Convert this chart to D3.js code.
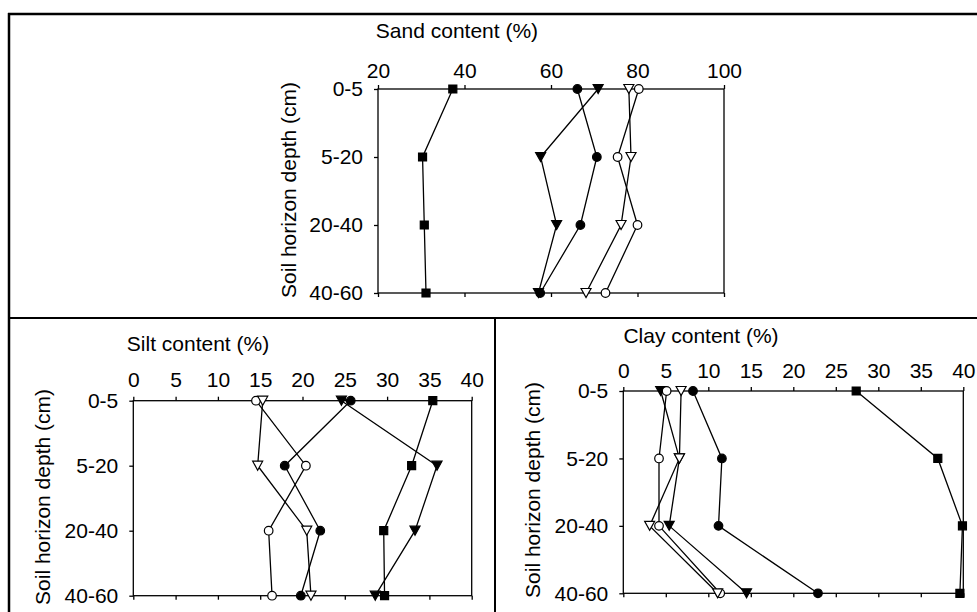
<!DOCTYPE html>
<html>
<head>
<meta charset="utf-8">
<script src="https://cdn.jsdelivr.net/npm/d3@7"></script>
<style>
    body { margin: 0; background: #fff; }
    svg { display: block; font-family: "Liberation Sans", Arial, sans-serif; }
</style>
</head>
<body>
<svg id="chart" width="977" height="612"></svg>
<script>
// depth classes (categories on the y axis)
var depths = ["0-5", "5-20", "20-40", "40-60"];

// sand content (%) per series
var sandSquare = [37.3, 30.3, 30.7, 31.1];
var sandFilledTri = [70.9, 57.6, 61.3, 57.1];
var sandFilledCircle = [66.1, 70.6, 66.8, 57.5];
var sandOpenCircle = [80.3, 75.4, 80.0, 72.6];
var sandOpenTri = [78.0, 78.5, 76.2, 68.1];

// silt content (%)
var siltSquare = [35.4, 32.9, 29.6, 29.7];
var siltFilledTri = [24.6, 35.9, 33.3, 28.6];
var siltFilledCircle = [25.7, 17.9, 22.1, 19.8];
var siltOpenCircle = [14.5, 20.4, 16.0, 16.4];
var siltOpenTri = [15.3, 14.7, 20.5, 21.0];

// clay content (%)
var claySquare = [27.4, 37.0, 39.9, 39.6];
var clayFilledTri = [4.4, 6.6, 5.4, 14.5];
var clayFilledCircle = [8.2, 11.6, 11.2, 22.9];
var clayOpenCircle = [5.1, 4.2, 4.2, 11.4];
var clayOpenTri = [6.8, 6.6, 3.1, 11.1];

var sandTicks = [20, 40, 60, 80, 100];
var siltTicks = [0, 5, 10, 15, 20, 25, 30, 35, 40];
var clayTicks = [0, 5, 10, 15, 20, 25, 30, 35, 40];

var fontSize = "21px";
var svg = d3.select("#chart");

// frame around the figure
var frame = svg.append("g").attr("stroke", "#000").attr("fill", "none");
frame.append("line").attr("x1", 8).attr("x2", 977).attr("y1", 14).attr("y2", 14).attr("stroke-width", 2.5);
frame.append("line").attr("x1", 9).attr("x2", 9).attr("y1", 13).attr("y2", 612).attr("stroke-width", 2.5);
frame.append("line").attr("x1", 8).attr("x2", 977).attr("y1", 318).attr("y2", 318).attr("stroke-width", 2);
frame.append("line").attr("x1", 495).attr("x2", 495).attr("y1", 318).attr("y2", 612).attr("stroke-width", 2);

function drawPanel(p) {
    var x = d3.scaleLinear().domain(p.domain).range([p.left, p.right]);
    var y = d3.scalePoint().domain(depths).range([p.top, p.bottom]).padding(0);
    var g = svg.append("g");

    // top axis with labels
    var top = g.append("g")
        .attr("transform", "translate(0," + p.top + ")")
        .call(d3.axisTop(x).tickValues(p.ticks).tickSize(4).tickSizeOuter(0).tickPadding(p.tickPad));
    top.select(".domain").remove();
    top.selectAll("text").style("font-size", fontSize).attr("fill", "#000").attr("font-family", null);
    top.selectAll("line").attr("stroke-width", 1.3);

    // bottom line, ticks only
    var bot = g.append("g")
        .attr("transform", "translate(0," + p.bottom + ")")
        .call(d3.axisBottom(x).tickValues(p.ticks).tickSize(4).tickSizeOuter(0).tickFormat(""));
    bot.select(".domain").remove();
    bot.selectAll("line").attr("stroke-width", 1.3);

    // left axis with depth labels
    var left = g.append("g")
        .attr("transform", "translate(" + p.left + ",0)")
        .call(d3.axisLeft(y).tickSize(4).tickSizeOuter(0).tickPadding(11));
    left.select(".domain").remove();
    left.selectAll("text").style("font-size", fontSize).attr("fill", "#000").attr("font-family", null);
    left.selectAll("line").attr("stroke-width", 1.3);

    // plot box
    g.append("rect")
        .attr("x", p.left).attr("y", p.top)
        .attr("width", p.right - p.left).attr("height", p.bottom - p.top)
        .attr("fill", "none").attr("stroke", "#000").attr("stroke-width", 1.3);

    // titles
    g.append("text")
        .attr("x", p.titleX).attr("y", p.titleY)
        .attr("text-anchor", "middle").style("font-size", fontSize)
        .text(p.title);
    g.append("text")
        .attr("transform", "translate(" + p.yTitleX + "," + p.yTitleY + ") rotate(-90)")
        .attr("text-anchor", "middle").attr("dy", "0.35em").style("font-size", fontSize)
        .text("Soil horizon depth (cm)");

    var line = d3.line()
        .x(function (d) { return x(d.v); })
        .y(function (d) { return y(d.depth); });

    p.series.forEach(function (s) {
        var pts = s.values.map(function (v, i) { return { v: v, depth: depths[i] }; });
        var sg = g.append("g");
        sg.append("path")
            .datum(pts)
            .attr("d", line)
            .attr("fill", "none")
            .attr("stroke", "#000")
            .attr("stroke-width", 1.3);

        var fill = s.open ? "#fff" : "#000";
        var marks = sg.selectAll(".m")
            .data(pts)
            .enter()
            .append("path")
            .attr("transform", function (d) { return "translate(" + x(d.v) + "," + y(d.depth) + ")"; })
            .attr("fill", fill)
            .attr("stroke", "#000")
            .attr("stroke-width", 1.2);
        if (s.shape === "square") {
            marks.attr("d", "M-4,-4H4V4H-4Z");
        } else if (s.shape === "circle") {
            marks.attr("d", "M4.3,0A4.3,4.3 0 1 1 -4.3,0A4.3,4.3 0 1 1 4.3,0Z");
        } else {
            // downward triangle
            marks.attr("d", "M-5,-4.5H5L0,4.5Z");
        }
    });
}

function seriesOf(sq, ft, fc, oc, ot) {
    return [
        { shape: "square", open: false, values: sq },
        { shape: "tri", open: false, values: ft },
        { shape: "circle", open: false, values: fc },
        { shape: "circle", open: true, values: oc },
        { shape: "tri", open: true, values: ot }
    ];
}

drawPanel({
    title: "Sand content (%)", domain: [20, 100], ticks: sandTicks,
    left: 378, right: 724, top: 89, bottom: 293, tickPad: 7,
    titleX: 457, titleY: 38, yTitleX: 289, yTitleY: 190,
    series: seriesOf(sandSquare, sandFilledTri, sandFilledCircle, sandOpenCircle, sandOpenTri)
});

drawPanel({
    title: "Silt content (%)", domain: [0, 40], ticks: siltTicks,
    left: 133.3, right: 471.7, top: 400.7, bottom: 595.7, tickPad: 10,
    titleX: 198, titleY: 351, yTitleX: 43, yTitleY: 497,
    series: seriesOf(siltSquare, siltFilledTri, siltFilledCircle, siltOpenCircle, siltOpenTri)
});

drawPanel({
    title: "Clay content (%)", domain: [0, 40], ticks: clayTicks,
    left: 623.3, right: 963.3, top: 391, bottom: 593.3, tickPad: 9,
    titleX: 701, titleY: 343, yTitleX: 533, yTitleY: 490,
    series: seriesOf(claySquare, clayFilledTri, clayFilledCircle, clayOpenCircle, clayOpenTri)
});
</script>
</body>
</html>
